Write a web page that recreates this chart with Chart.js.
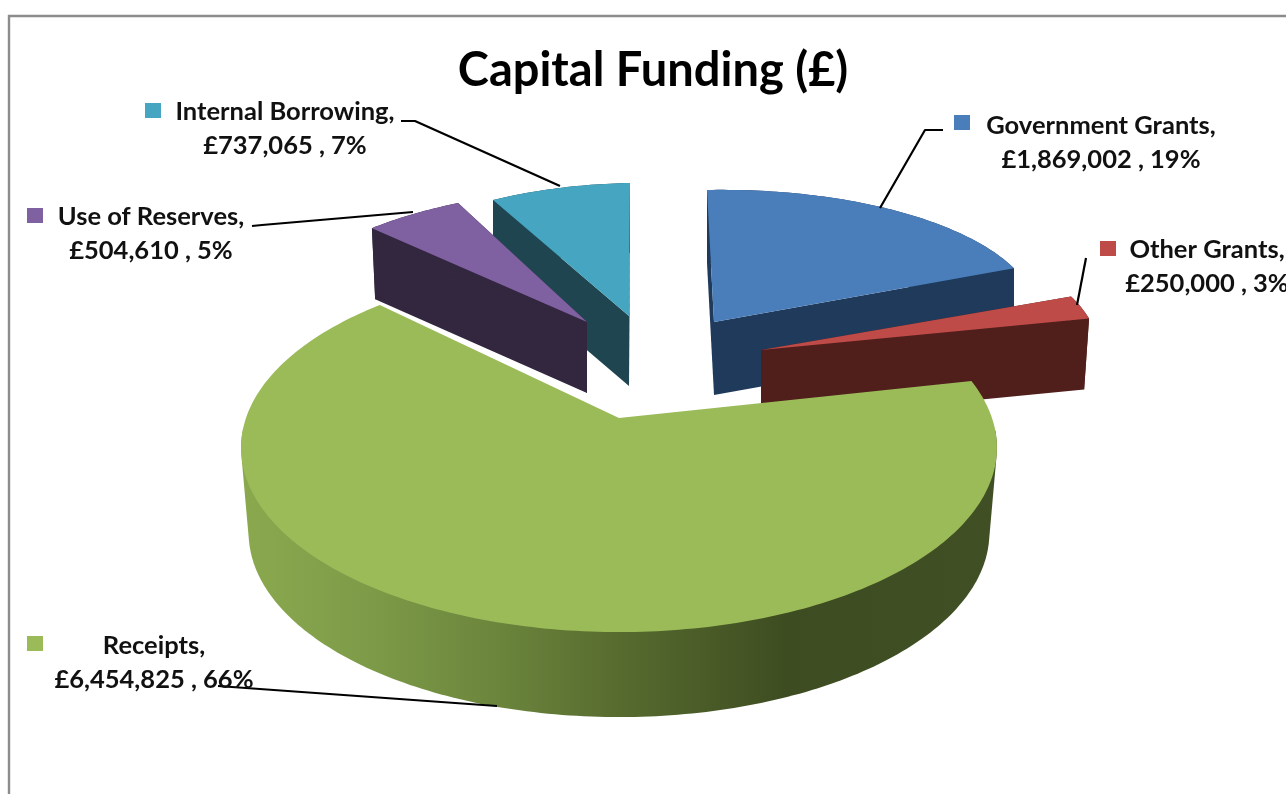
<!DOCTYPE html>
<html><head><meta charset="utf-8">
<style>html,body{margin:0;padding:0;background:#fff;overflow:hidden}canvas{display:block;filter:blur(0.4px)}</style>
<script src="https://cdn.jsdelivr.net/npm/chart.js@4"></script>
</head><body><canvas id="c" width="1286" height="794"></canvas>
<script>
const categories = ["Government Grants","Other Grants","Receipts","Use of Reserves","Internal Borrowing"];
const values = [1869002,250000,6454825,504610,737065];
const percentLabels = ["19%","3%","66%","5%","7%"];
const topColors = ["#4a7ebb","#be4b48","#9bbb59","#7f60a0","#46a6c2"];
const sideColors = ["#1f3a5a","#501f1c",null,"#33263f","#1f4650"];

// projection of each exploded slice: apex x,y, then u->x, v->x, u->y, v->y, perspective, depth, bottom scale
const projection = [
  [714,322,325,7,-6,132,0,73,1],
  [761,350,339,15,-1,144,0,71,0.985],
  [619,418,373,0,0,179.6,-0.161,85,0.98],
  [587,322,319,-18,1,133,0,71,0.985],
  [629,316,301,-1,-5.5,133,0,70,1]
];
const drawOrder = [4,3,0,1,2];
// label placement: centre x, line 1 y, line 2 y, key x, key y
const labelPlace = [
  [1101,126,160,954,115],
  [1207,250,284,1100,241],
  [154,646,680,27,636],
  [151,217,251,27,208],
  [285,112,146,145,103]
];
const leaderLines = [
  [[943,130],[925,130],[880,208]],
  [[1086,258],[1077,305]],
  [[218,686],[497,706]],
  [[252,226],[262,225],[413,212]],
  [[401,121],[415,121],[560,186]]
];

function pathFor(arc,i){
  const [ax,ay,A,B,C,D,p,depth,sc]=projection[i];
  const pts=[];
  const project=(u,v)=>{const w=1+p*v;return [ax+(A*u+B*v)/w,ay+(C*u+D*v)/w];};
  pts.push(project(0,0));
  const n=Math.max(8,Math.ceil((arc.endAngle-arc.startAngle)*60));
  for(let k=0;k<=n;k++){
    const a=arc.startAngle+(arc.endAngle-arc.startAngle)*k/n;
    pts.push(project(Math.cos(a),Math.sin(a)));
  }
  const low=pts.map(q=>[ax+(q[0]-ax)*sc,q[1]+depth]);
  return {pts,low};
}
function poly(c,list){c.beginPath();list.forEach((q,k)=>k?c.lineTo(...q):c.moveTo(...q));c.closePath();c.fill();}
function hull(points){
  const s=points.slice().sort((a,b)=>a[0]-b[0]||a[1]-b[1]);
  const cross=(o,a,b)=>(a[0]-o[0])*(b[1]-o[1])-(a[1]-o[1])*(b[0]-o[0]);
  const build=list=>{const h=[];for(const q of list){while(h.length>1&&cross(h[h.length-2],h[h.length-1],q)<=0)h.pop();h.push(q);}h.pop();return h;};
  return build(s).concat(build(s.slice().reverse()));
}
const pie3d={
  id:'pie3d',
  beforeDraw(chart){
    const c=chart.ctx;c.save();c.fillStyle='#fff';c.fillRect(0,0,1286,794);
    c.strokeStyle='#8c8c8c';c.lineWidth=2.4;c.beginPath();c.moveTo(9,794);c.lineTo(9,16);c.lineTo(1286,16);c.stroke();c.restore();
  },
  beforeDatasetsDraw(chart){
    const c=chart.ctx,arcs=chart.getDatasetMeta(0).data;
    c.save();
    for(const i of drawOrder){
      const {pts,low}=pathFor(arcs[i],i);
      const m=pts.length;
      if(sideColors[i]){
        c.fillStyle=sideColors[i];
        poly(c,[pts[0],pts[1],low[1],low[0]]);
        poly(c,[pts[0],pts[m-1],low[m-1],low[0]]);
        poly(c,pts.slice(1).concat(low.slice(1).reverse()));
      }else{
        const g=c.createLinearGradient(242,0,996,0);
        g.addColorStop(0,'#8aa94e');g.addColorStop(0.15,'#7f9d49');g.addColorStop(0.34,'#6b853c');
        g.addColorStop(0.5,'#576b2f');g.addColorStop(0.72,'#3e4d21');g.addColorStop(1,'#414f24');
        c.fillStyle=g;
        const ay=projection[i][1];
        const front=pts.slice(1).filter(q=>q[1]>ay+10);
        const lowFront=low.slice(1).filter((q,k)=>pts[k+1][1]>ay+10);
        poly(c,hull(front.concat(lowFront)));
      }
      c.fillStyle=topColors[i];
      poly(c,pts);
    }
    c.restore();
    return false;
  },
  afterDraw(chart){
    const c=chart.ctx;c.save();
    c.strokeStyle='#000';c.lineWidth=2.2;c.lineJoin='round';
    leaderLines.forEach(l=>{c.beginPath();l.forEach((q,k)=>k?c.lineTo(...q):c.moveTo(...q));c.stroke();});
    c.font='bold 25.5px Lato';c.textAlign='center';c.textBaseline='middle';
    categories.forEach((name,i)=>{
      const [x,y1,y2,kx,ky]=labelPlace[i];
      c.fillStyle='#111';
      c.fillText(name+',',x,y1);
      c.fillText('£'+values[i].toLocaleString('en-GB')+' , '+percentLabels[i],x,y2);
      c.fillStyle=topColors[i];c.fillRect(kx,ky,16,15);
    });
    c.restore();
  }
};
new Chart(document.getElementById('c'),{
  type:'pie',
  data:{labels:categories,datasets:[{data:values,backgroundColor:topColors,borderWidth:0}]},
  options:{responsive:false,animation:false,devicePixelRatio:1,
    layout:{padding:{left:20}},
    plugins:{legend:{display:false},tooltip:{enabled:false},
      title:{display:true,text:'Capital Funding (£)',color:'#000',font:{family:'Lato',size:47,weight:'bold'},padding:{top:43,bottom:10}}}
  },
  plugins:[pie3d]
});
</script></body></html>
